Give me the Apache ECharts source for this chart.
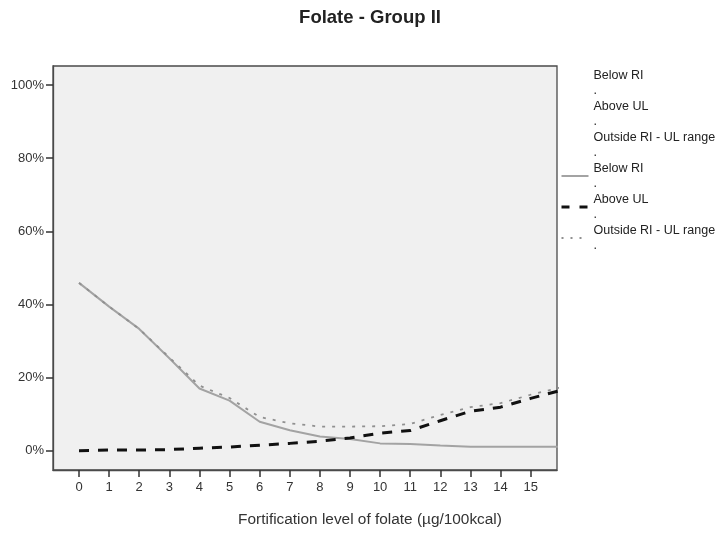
<!DOCTYPE html>
<html>
<head>
<meta charset="utf-8">
<script src="https://cdn.jsdelivr.net/npm/echarts@6/dist/echarts.min.js"></script>
<style>
html,body{margin:0;padding:0;background:#fff;}
#chart{width:720px;height:533px;}
</style>
</head>
<body>
<div id="chart"></div>
<script>
// ---- data ----
const chartTitle = 'Folate - Group II';
const xAxisTitle = 'Fortification level of folate (\u00b5g/100kcal)';
const xLevels = [0, 1, 2, 3, 4, 5, 6, 7, 8, 9, 10, 11, 12, 13, 14, 15, 16];
const belowRI =      [45.9, 39.4, 33.3, 25.3, 17.0, 13.7, 7.9, 5.6, 3.9, 3.2, 2.0, 1.8, 1.4, 1.1, 1.1, 1.1, 1.1];
const aboveUL =      [0.0, 0.2, 0.2, 0.3, 0.7, 1.0, 1.5, 2.0, 2.6, 3.5, 4.8, 5.5, 8.2, 10.8, 11.9, 14.3, 16.5];
const outsideRange = [45.9, 39.4, 33.3, 25.5, 17.8, 14.4, 9.2, 7.5, 6.6, 6.6, 6.7, 7.3, 9.8, 11.9, 13.0, 15.3, 17.3];
const legendNames = ['Below RI', 'Above UL', 'Outside RI - UL range'];
const xTickValues = [0, 1, 2, 3, 4, 5, 6, 7, 8, 9, 10, 11, 12, 13, 14, 15];
const yTickValues = [0, 20, 40, 60, 80, 100];

const pairs = arr => xLevels.map((x, i) => [x, arr[i]]);

const chart = echarts.init(document.getElementById('chart'), null, {renderer: 'canvas'});
const FONT = 'Liberation Sans, Arial, sans-serif';

const lineStyles = [
  {color: '#a3a3a3', width: 2, type: 'solid'},
  {color: '#111111', width: 3, type: [10, 9]},
  {color: '#909090', width: 1.8, type: [3, 7]}
];
const legendLineStyles = [
  {color: '#a3a3a3', width: 2, type: 'solid'},
  {color: '#111111', width: 3, type: [8, 10]},
  {color: '#909090', width: 1.8, type: [2, 7]}
];
const values = [belowRI, aboveUL, outsideRange];

const series = [];
// marker-legend entries (no visible marks)
legendNames.forEach(n => {
  series.push({name: n + ' ', type: 'line', data: [], symbol: 'none'});
});
legendNames.forEach((n, i) => {
  series.push({
    name: n,
    type: 'line',
    data: pairs(values[i]),
    symbol: 'none',
    clip: true,
    lineStyle: lineStyles[i],
    itemStyle: {color: lineStyles[i].color},
    z: 2 + i
  });
});

const legendData = [];
legendNames.forEach(n => legendData.push({name: n + ' ', icon: 'none'}));
legendNames.forEach((n, i) => legendData.push({name: n, lineStyle: legendLineStyles[i]}));

chart.setOption({
  animation: false,
  backgroundColor: '#ffffff',
  textStyle: {fontFamily: FONT},
  grid: {
    left: 53, right: 163, top: 66, bottom: 63,
    show: true, backgroundColor: '#f0f0f0', borderColor: '#4a4a4a', borderWidth: 1.3
  },
  legend: {
    orient: 'vertical',
    left: 560, top: 68, padding: 0,
    itemWidth: 27, itemHeight: 10, itemGap: 1,
    selectedMode: false,
    data: legendData,
    itemStyle: {opacity: 0},
    formatter: n => n.trim() + '\n.',
    textStyle: {fontFamily: FONT, fontSize: 12.5, lineHeight: 15, color: '#222'}
  },
  xAxis: {
    type: 'value', min: -0.864, max: 15.875,
    axisLine: {show: true, onZero: false, lineStyle: {color: '#4a4a4a', width: 1.3}},
    axisTick: {show: true, length: 7, customValues: xTickValues, lineStyle: {color: '#333', width: 1.5}},
    axisLabel: {customValues: xTickValues, margin: 11, fontSize: 13, color: '#333', fontFamily: FONT},
    splitLine: {show: false}
  },
  yAxis: {
    type: 'value', min: -5.28, max: 105.2,
    axisLine: {show: true, onZero: false, lineStyle: {color: '#4a4a4a', width: 1.3}},
    axisTick: {show: true, length: 7, customValues: yTickValues, lineStyle: {color: '#333', width: 1.5}},
    axisLabel: {customValues: yTickValues, margin: 9, fontSize: 13, color: '#333', fontFamily: FONT,
      formatter: v => v + '%'},
    splitLine: {show: false}
  },
  graphic: [
    {type: 'text', x: 370, y: 18, style: {text: chartTitle, fontFamily: FONT, fontSize: 18.5, fontWeight: 'bold',
      fill: '#222', align: 'center', verticalAlign: 'middle'}},
    {type: 'text', x: 370, y: 520, style: {text: xAxisTitle, fontFamily: FONT, fontSize: 15.4,
      fill: '#333', align: 'center', verticalAlign: 'middle'}}
  ],
  series: series
});
</script>
</body>
</html>
